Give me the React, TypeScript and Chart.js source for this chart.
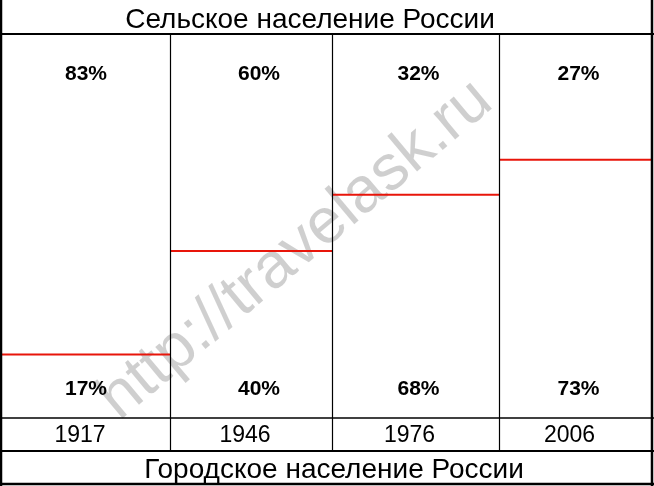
import React, { useEffect, useRef } from "react";
import { Chart, registerables } from "chart.js";

Chart.register(...registerables);

// ---- data ----
const years = ["1917", "1946", "1976", "2006"];
const ruralShare = [83, 60, 32, 27];
const urbanShare = [17, 40, 68, 73];
// heights of the red dividing lines, as drawn in the picture (0..100 of the box)
const lineLevels = [16.6, 43.6, 58.3, 67.4];
const topTitle = "Сельское население России";
const bottomTitle = "Городское население России";
const watermark = "http://travelask.ru";

// ---- layout (x scale units = column widths) ----
const COLUMN_EDGES = [0, 168, 330, 497, 650];
const LABEL_SHIFT = [0, 8, 3, 3];
const FONT = '"Liberation Sans", Arial, sans-serif';

const tablePlugin = {
  id: "tablePlugin",
  beforeDatasetsDraw(chart: any) {
    const ctx = chart.ctx as CanvasRenderingContext2D;
    ctx.save();
    ctx.translate(296, 250);
    ctx.rotate((-40 * Math.PI) / 180);
    ctx.font = `64px ${FONT}`;
    ctx.fillStyle = "rgba(0,0,0,0.19)";
    ctx.textAlign = "center";
    ctx.textBaseline = "middle";
    ctx.fillText(watermark, 0, 0);
    ctx.restore();
  },
  afterDatasetsDraw(chart: any) {
    const ctx = chart.ctx as CanvasRenderingContext2D;
    const xs = chart.scales.x;
    const ys = chart.scales.y;
    const area = chart.chartArea;
    const W = chart.width;
    const H = chart.height;
    ctx.save();
    ctx.strokeStyle = "#000";

    // column dividers
    ctx.lineWidth = 1.2;
    for (let i = 1; i < COLUMN_EDGES.length - 1; i++) {
      const px = Math.round(xs.getPixelForValue(COLUMN_EDGES[i])) + 0.5;
      ctx.beginPath();
      ctx.moveTo(px, area.top);
      ctx.lineTo(px, 450);
      ctx.stroke();
    }

    // horizontal separators
    const hline = (y: number, w: number) => {
      ctx.lineWidth = w;
      ctx.beginPath();
      ctx.moveTo(0, y);
      ctx.lineTo(W, y);
      ctx.stroke();
    };
    hline(34, 2);
    hline(area.bottom, 1.6);
    hline(451, 2);
    hline(H - 2, 2.5);
    // outer vertical borders
    ctx.lineWidth = 2.5;
    ctx.beginPath();
    ctx.moveTo(1, 0);
    ctx.lineTo(1, H);
    ctx.moveTo(W - 2, 0);
    ctx.lineTo(W - 2, H);
    ctx.stroke();

    // texts
    ctx.fillStyle = "#000";
    ctx.textAlign = "center";
    ctx.textBaseline = "alphabetic";
    ctx.font = `28px ${FONT}`;
    ctx.fillText(topTitle, 310, 28);
    ctx.fillText(bottomTitle, 334, 478);

    for (let i = 0; i < years.length; i++) {
      const cx =
        (xs.getPixelForValue(COLUMN_EDGES[i]) +
          xs.getPixelForValue(COLUMN_EDGES[i + 1])) /
        2;
      ctx.font = `bold 21px ${FONT}`;
      ctx.fillText(ruralShare[i] + "%", cx + LABEL_SHIFT[i], ys.getPixelForValue(88.3));
      ctx.fillText(urbanShare[i] + "%", cx + LABEL_SHIFT[i], ys.getPixelForValue(6.0));
      ctx.font = `23px ${FONT}`;
      ctx.fillText(years[i], cx - 6, 442);
    }
    ctx.restore();
  },
};

export default function App() {
  const ref = useRef<HTMLCanvasElement | null>(null);

  useEffect(() => {
    document.body.style.margin = "0";
    const canvas = ref.current;
    if (!canvas) return;
    const datasets = years.map((y, i) => ({
      label: y,
      data: [
        { x: COLUMN_EDGES[i], y: lineLevels[i] },
        { x: COLUMN_EDGES[i + 1], y: lineLevels[i] },
      ],
      borderColor: "#e8150a",
      borderWidth: 2,
      pointRadius: 0,
      fill: false,
    }));
    const chart = new Chart(canvas, {
      type: "line",
      data: { datasets },
      options: {
        responsive: false,
        animation: false,
        devicePixelRatio: 1,
        layout: { padding: { left: 2, right: 2, top: 35, bottom: 68 } },
        plugins: {
          legend: { display: false },
          tooltip: { enabled: false },
          title: { display: false },
        },
        scales: {
          x: { type: "linear", min: 0, max: 650, display: false },
          y: { min: 0, max: 100, display: false },
        },
      },
      plugins: [tablePlugin],
    });
    return () => chart.destroy();
  }, []);

  return (
    <div style={{ width: 654, height: 486, background: "#fff" }}>
      <canvas ref={ref} width={654} height={486} style={{ display: "block" }} />
    </div>
  );
}
